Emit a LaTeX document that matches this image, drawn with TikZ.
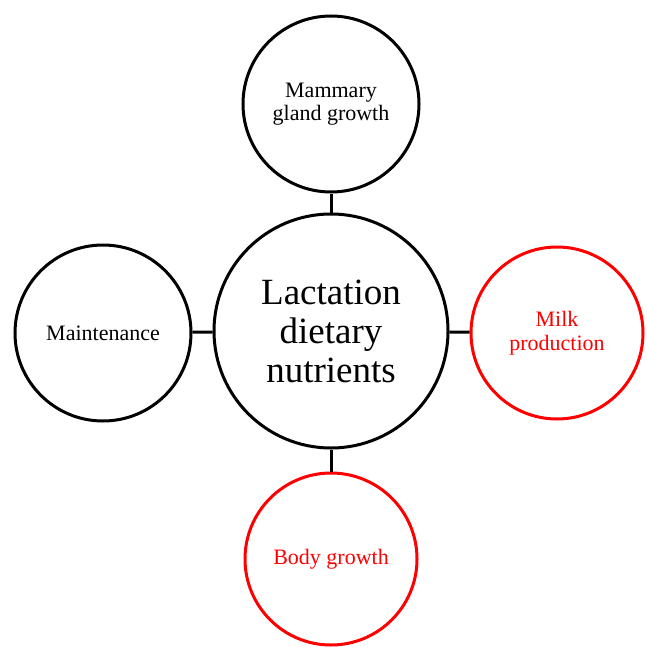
\documentclass[tikz,border=0pt]{standalone}
\usepackage{fontspec}
\setmainfont{Liberation Serif}
\definecolor{rd}{RGB}{255,0,0}
\tikzset{
  bub/.style={circle, draw=black, line width=3pt, minimum size=176pt, inner sep=0pt, align=center, font=\fontsize{22}{23.5}\selectfont, text=black},
  redbub/.style={bub, draw=rd, text=rd, minimum size=172pt},
  hub/.style={circle, draw=black, line width=3pt, minimum size=234pt, inner sep=0pt, align=center, font=\fontsize{37}{39}\selectfont},
  link/.style={draw=black, line width=3pt}
}
\begin{document}
\begin{tikzpicture}[x=1pt, y=-1pt]
\useasboundingbox (0,0) rectangle (647,647);
\node[hub] (c) at (331,331) {Lactation\\dietary\\nutrients};
\node[bub] (t) at (331,104) {Mammary\\gland growth};
\node[bub] (l) at (103,333) {Maintenance};
\node[redbub] (r) at (557,333) {Milk\\production};
\node[redbub] (b) at (331,559) {Body growth};
\draw[link] (c) -- (t);
\draw[link] (c) -- (l);
\draw[link] (c) -- (r);
\draw[link] (c) -- (b);
\end{tikzpicture}
\end{document}
